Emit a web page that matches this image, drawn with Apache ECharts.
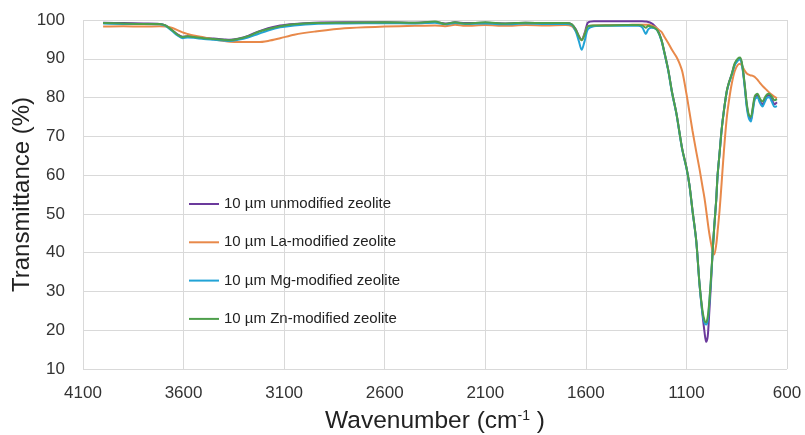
<!DOCTYPE html>
<html>
<head>
<meta charset="utf-8">
<script src="https://cdn.jsdelivr.net/npm/echarts@6/dist/echarts.min.js"></script>
<style>
  html, body { margin: 0; padding: 0; background: #ffffff; }
  #chart { width: 805px; height: 435px; }
</style>
</head>
<body>
<div id="chart"></div>
<script>
// FTIR spectra of 10 µm zeolite samples (transmittance vs wavenumber)
const wavenumbers = [
  4000, 3900, 3800, 3720, 3690, 3660, 3630, 3605, 3580, 3550,
  3500, 3450, 3400, 3370, 3330, 3280, 3230, 3180, 3120, 3050,
  2950, 2800, 2600, 2450, 2350, 2300, 2250, 2200, 2100, 2000,
  1900, 1800, 1700, 1670, 1650, 1635, 1621, 1605, 1590, 1560,
  1500, 1400, 1340, 1320, 1302, 1290, 1275, 1260, 1244, 1225,
  1211, 1190, 1172, 1150, 1136, 1120, 1100, 1085, 1070, 1051,
  1035, 1020, 1010, 1002, 994, 987, 978, 970, 962, 952,
  945, 935, 925, 914, 900, 889, 875, 860, 845, 833,
  822, 810, 800, 790, 780, 770, 760, 747, 735, 722,
  710, 700, 689, 675, 662, 650
];

const unmodified = [
  99.3, 99.2, 99.1, 99.0, 98.6, 97.5, 96.3, 95.7, 95.8, 95.7,
  95.4, 95.2, 95.0, 94.9, 95.2, 95.9, 97.0, 97.9, 98.6, 99.0,
  99.3, 99.4, 99.4, 99.3, 99.5, 99.1, 99.4, 99.2, 99.3, 99.1,
  99.3, 99.2, 99.2, 98.9, 97.6, 95.9, 94.9, 96.8, 99.3, 99.7,
  99.7, 99.7, 99.7, 99.7, 99.6, 99.5, 99.2, 98.6, 97.6, 95.0,
  92.0, 87.0, 81.5, 76.0, 71.5, 66.5, 62.0, 57.5, 51.0, 43.0,
  32.0, 24.0, 19.5, 17.0, 18.5, 24.0, 32.0, 40.0, 46.5, 53.5,
  60.0, 65.8, 71.7, 76.5, 81.5, 83.8, 86.0, 88.6, 89.7, 90.0,
  88.0, 83.0, 78.0, 75.2, 74.3, 77.0, 80.0, 80.6, 79.2, 78.2,
  79.4, 80.4, 80.6, 79.4, 78.3, 78.8
];

const laModified = [
  98.3, 98.4, 98.3, 98.4, 98.3, 98.0, 97.4, 96.8, 96.4, 96.0,
  95.5, 95.0, 94.6, 94.4, 94.3, 94.3, 94.3, 94.6, 95.3, 96.2,
  97.0, 97.9, 98.3, 98.5, 98.6, 98.4, 98.8, 98.5, 98.7, 98.5,
  98.7, 98.6, 98.7, 98.4, 97.2, 95.7, 94.8, 96.5, 98.3, 98.6,
  98.7, 98.7, 98.8, 98.8, 98.8, 98.8, 98.6, 98.3, 97.7, 97.0,
  95.8, 94.0, 92.3, 90.5, 89.0, 86.6, 81.0, 76.3, 71.5, 66.0,
  61.6, 57.0, 54.0, 51.0, 47.8, 45.2, 42.5, 40.5, 39.5, 42.0,
  45.5, 51.0, 58.0, 66.0, 74.5, 79.0, 83.5, 86.8, 88.4, 88.7,
  88.0, 86.9, 86.2, 85.9, 85.7, 85.6, 85.3, 84.6, 83.8, 83.0,
  82.4, 81.9, 81.3, 80.7, 80.2, 79.8
];

const mgModified = [
  99.1, 99.0, 99.0, 98.9, 98.5, 97.3, 96.0, 95.3, 95.5, 95.4,
  95.1, 94.9, 94.7, 94.6, 94.9, 95.5, 96.4, 97.3, 98.1, 98.6,
  99.0, 99.1, 99.2, 99.1, 99.3, 98.9, 99.2, 99.0, 99.1, 98.9,
  99.1, 99.0, 99.0, 98.7, 97.0, 94.6, 92.3, 94.8, 97.6, 98.4,
  98.5, 98.5, 98.5, 98.1, 96.4, 97.6, 98.0, 97.9, 97.2, 94.8,
  91.8, 86.8, 81.3, 75.8, 71.3, 66.3, 61.8, 57.3, 50.8, 42.8,
  31.8, 24.3, 21.9, 21.5, 22.5, 26.5, 33.0, 40.0, 46.5, 53.5,
  60.0, 65.8, 71.7, 76.5, 81.3, 83.6, 85.8, 88.3, 89.5, 89.8,
  87.8, 82.5, 77.5, 74.7, 73.8, 76.5, 79.5, 80.1, 78.7, 77.7,
  78.9, 79.9, 80.1, 78.9, 77.6, 77.8
];

const znModified = [
  99.2, 99.1, 99.0, 99.0, 98.6, 97.5, 96.2, 95.6, 95.8, 95.6,
  95.3, 95.1, 94.9, 94.8, 95.1, 95.8, 96.9, 97.7, 98.4, 98.9,
  99.2, 99.3, 99.4, 99.3, 99.6, 99.0, 99.4, 99.1, 99.4, 99.1,
  99.3, 99.2, 99.2, 98.9, 97.5, 95.8, 94.8, 96.4, 98.4, 98.6,
  98.6, 98.7, 98.7, 98.6, 98.0, 98.5, 98.3, 98.0, 97.3, 95.0,
  92.0, 87.0, 81.5, 76.0, 71.5, 66.5, 62.0, 57.5, 51.0, 43.0,
  32.0, 25.0, 22.5, 22.0, 23.5, 27.0, 33.5, 40.0, 46.5, 53.5,
  60.0, 65.8, 71.7, 76.5, 81.5, 83.8, 86.0, 88.8, 90.0, 90.3,
  88.3, 83.3, 78.5, 75.6, 75.0, 77.5, 80.4, 81.0, 79.8, 79.0,
  80.0, 80.8, 81.0, 80.2, 79.3, 79.6
];

const seriesNames = [
  '10 µm unmodified zeolite',
  '10 µm La-modified zeolite',
  '10 µm Mg-modified zeolite',
  '10 µm Zn-modified zeolite'
];
const seriesValues = [unmodified, laModified, mgModified, znModified];
const seriesColors = ['#6b3a9c', '#e8894a', '#22a3d6', '#4e9f4b'];

const FONT = '"Liberation Sans", Arial, sans-serif';

const chart = echarts.init(document.getElementById('chart'), null, { renderer: 'canvas' });

chart.setOption({
  animation: false,
  backgroundColor: '#ffffff',
  textStyle: { fontFamily: FONT },
  grid: {
    left: 83, right: 18, top: 20, bottom: 66,
    containLabel: false,
    outerBoundsMode: 'none'
  },
  legend: {
    orient: 'vertical',
    left: 189,
    top: 194,
    padding: 0,
    icon: 'rect',
    itemWidth: 30,
    itemHeight: 2,
    itemGap: 18.3,
    textStyle: {
      fontFamily: FONT, fontSize: 15, color: '#222222',
      lineHeight: 20, height: 20
    },
    data: seriesNames
  },
  xAxis: {
    type: 'value',
    inverse: true,
    min: 600,
    max: 4100,
    interval: 500,
    name: 'Wavenumber (cm{sup|-1} )',
    nameLocation: 'middle',
    nameGap: 40,
    nameMoveOverlap: false,
    nameTextStyle: {
      fontFamily: FONT, fontSize: 24.5, color: '#222222',
      rich: { sup: { fontFamily: FONT, fontSize: 14, color: '#222222', verticalAlign: 'top', padding: [0, 0, 9, 0] } }
    },
    axisLine: { show: false },
    axisTick: { show: false },
    axisLabel: {
      fontFamily: FONT, fontSize: 17, color: '#333333', margin: 16,
      formatter: (v) => String(v)
    },
    splitLine: { show: true, lineStyle: { color: '#d9d9d9', width: 1 } }
  },
  yAxis: {
    type: 'value',
    min: 10,
    max: 100,
    interval: 10,
    name: 'Transmittance (%)',
    nameLocation: 'middle',
    nameGap: 49,
    nameMoveOverlap: false,
    nameTextStyle: { fontFamily: FONT, fontSize: 24, color: '#222222' },
    axisLine: { show: false },
    axisTick: { show: false },
    axisLabel: { fontFamily: FONT, fontSize: 17, color: '#333333', margin: 18 },
    splitLine: { show: true, lineStyle: { color: '#d9d9d9', width: 1 } }
  },
  series: seriesNames.map((name, i) => ({
    name: name,
    type: 'line',
    symbol: 'none',
    smooth: 0.3,
    color: seriesColors[i],
    lineStyle: { width: 2, color: seriesColors[i] },
    data: wavenumbers.map((w, k) => [w, seriesValues[i][k]])
  }))
});
</script>
</body>
</html>
